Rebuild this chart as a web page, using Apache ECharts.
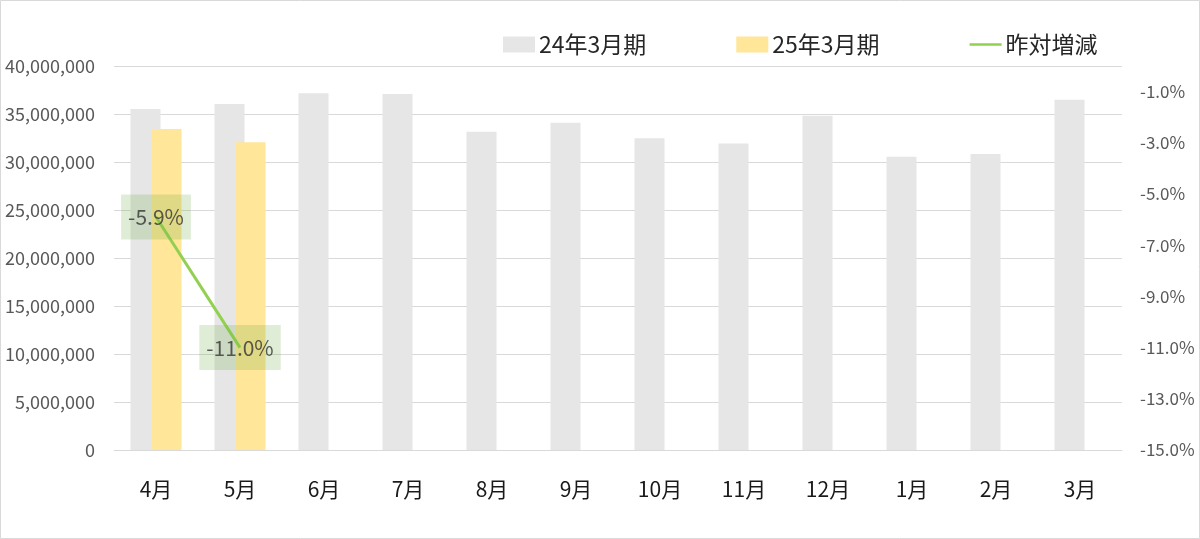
<!DOCTYPE html>
<html><head><meta charset="utf-8">
<script src="https://cdn.jsdelivr.net/npm/echarts@6/dist/echarts.min.js"></script>
<style>html,body{margin:0;padding:0;background:#fff}#c{width:1200px;height:539px}</style>
</head><body><div id="c"></div>
<script>
const categories = ['4月','5月','6月','7月','8月','9月','10月','11月','12月','1月','2月','3月'];
const prevYear = [35520000,36040000,37150000,37080000,33160000,34100000,32470000,31940000,34830000,30550000,30830000,36490000];
const currYear = [33440000,32050000,null,null,null,null,null,null,null,null,null,null];
const yoy = [-5.9,-11.0,null,null,null,null,null,null,null,null,null,null];
const seriesNames = ['24年3月期','25年3月期','昨対増減'];

const FONT = '"Noto Sans CJK JP","Noto Sans",sans-serif';
const chart = echarts.init(document.getElementById('c'));
chart.setOption({
  animation:false,
  backgroundColor:'#fff',
  textStyle:{fontFamily:FONT},
  graphic:[{type:'rect',shape:{x:0.5,y:0.5,width:1199,height:538},style:{fill:'none',stroke:'#d9d9d9',lineWidth:1},silent:true}],
  legend:{
    left:498, top:28, itemGap:90, itemWidth:32, itemHeight:16,
    textStyle:{fontSize:23,color:'#262626',fontFamily:FONT,padding:[0,0,0,-1]},
    data:[
      {name:seriesNames[0],icon:'rect'},
      {name:seriesNames[1],icon:'rect'},
      {name:seriesNames[2],icon:'path://M0,0 L36,0 L36,3 L0,3 Z',symbolKeepAspect:true,itemStyle:{color:'#92d050'}}
    ]
  },
  grid:{left:114,right:78,top:66,bottom:89,containLabel:false},
  xAxis:{
    type:'category', data:categories,
    axisLine:{lineStyle:{color:'#d9d9d9',width:1}},
    axisTick:{show:false},
    axisLabel:{fontSize:21,color:'#1a1a1a',margin:29,fontFamily:FONT}
  },
  yAxis:[{
    type:'value', min:0, max:40000000, interval:5000000,
    axisLine:{show:false}, axisTick:{show:false},
    splitLine:{lineStyle:{color:'#d9d9d9',width:1}},
    axisLabel:{fontSize:18,color:'#595959',margin:19,fontFamily:FONT,
      formatter:v=>v.toLocaleString('en-US')}
  },{
    type:'value', min:-15, max:0, interval:2, position:'right',
    axisLine:{show:false}, axisTick:{show:false}, splitLine:{show:false},
    axisLabel:{fontSize:17,color:'#595959',margin:18,fontFamily:FONT,showMaxLabel:false,
      formatter:v=> v===0 ? '' : v.toFixed(1)+'%'}
  }],
  series:[{
    name:seriesNames[0], type:'bar', data:prevYear, barWidth:30, barGap:'-30%',
    itemStyle:{color:'#e7e6e6'}
  },{
    name:seriesNames[1], type:'bar', data:currYear, barWidth:30, barGap:'-30%',
    itemStyle:{color:'#ffe699'}
  },{
    name:seriesNames[2], type:'line', yAxisIndex:1, data:yoy, symbol:'none', z:5,
    lineStyle:{color:'#92d050',width:3}, itemStyle:{color:'#92d050'}
  },{
    name:'labels', type:'scatter', yAxisIndex:1, data:yoy, symbol:'circle', symbolSize:1, z:6,
    itemStyle:{color:'rgba(0,0,0,0)'}, silent:true,
    label:{show:true,position:'inside',fontSize:21,color:'#333333',fontFamily:FONT,
      backgroundColor:'rgba(112,173,71,0.28)',padding:[12,7],
      formatter:p=>p.value.toFixed(1)+'%'}
  }]
});
</script></body></html>
